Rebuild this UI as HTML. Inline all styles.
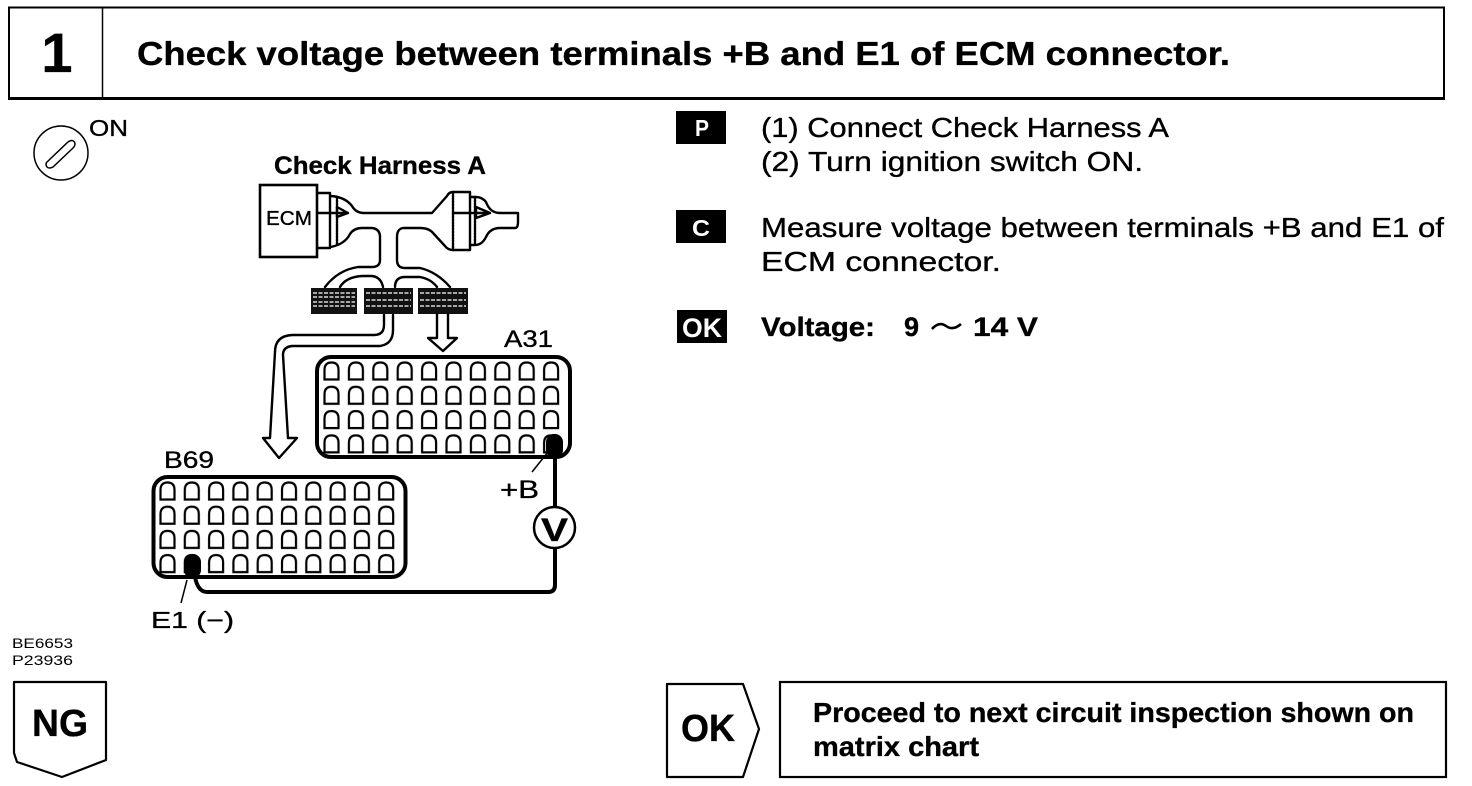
<!DOCTYPE html>
<html>
<head>
<meta charset="utf-8">
<style>
html,body{margin:0;padding:0;background:#fff;}
svg{display:block;}
text{font-family:"Liberation Sans",sans-serif;fill:#000;}
.b{font-weight:bold;stroke:#000;stroke-width:.35px;}
.r{stroke:#000;stroke-width:.35px;}
.t{font-size:28px;stroke:#000;stroke-width:.35px;}
.l{fill:none;stroke:#000;stroke-width:2.4;stroke-linejoin:round;stroke-linecap:round;}
</style>
</head>
<body>
<svg width="1472" height="786" viewBox="0 0 1472 786" xmlns="http://www.w3.org/2000/svg">
<defs>
<pattern id="pa" patternUnits="userSpaceOnUse" x="323" y="361" width="24.4" height="24.3">
<path d="M1.5 18.5V9Q1.5 1.5 8.5 1.5Q15.500 1.500 15.500 9V18.500Z" fill="none" stroke="#000" stroke-width="2.200"/>
</pattern>
<pattern id="pb" patternUnits="userSpaceOnUse" x="159" y="481" width="24.3" height="24.2">
<path d="M1.5 18.5V9Q1.500 1.500 8.500 1.500Q15.500 1.500 15.500 9V18.500Z" fill="none" stroke="#000" stroke-width="2.200"/>
</pattern>
</defs>

<!-- header -->
<rect x="9" y="7.500" width="1435" height="91" fill="none" stroke="#000" stroke-width="2"/>
<line x1="8" y1="98.500" x2="1445" y2="98.500" stroke="#000" stroke-width="3"/>
<line x1="102.500" y1="7" x2="102.500" y2="98" stroke="#000" stroke-width="1.500"/>
<text x="57" y="72" class="b" font-size="56" text-anchor="middle">1</text>
<text x="137" y="65" class="b" font-size="33" textLength="1093" lengthAdjust="spacingAndGlyphs">Check voltage between terminals +B and E1 of ECM connector.</text>

<!-- ignition -->
<circle cx="61" cy="153" r="27" fill="none" stroke="#000" stroke-width="1.500"/>
<path d="M47 162L68 142Q72 139 74.500 142Q76 145 73 148L53 167Q49 169 47 167Q45 164 47 162Z" fill="none" stroke="#000" stroke-width="1.500"/>
<text x="89" y="136" class="r" font-size="23" textLength="39" lengthAdjust="spacingAndGlyphs">ON</text>

<!-- harness -->
<text x="274" y="174" class="b" font-size="25" textLength="212" lengthAdjust="spacingAndGlyphs">Check Harness A</text>
<rect x="260" y="185" width="57" height="72" fill="none" stroke="#000" stroke-width="2.600"/>
<text x="266" y="225" class="r" font-size="20" textLength="46" lengthAdjust="spacingAndGlyphs">ECM</text>
<path class="l" d="M317 193H330V248H317"/>
<path class="l" d="M331 196Q345 197 352 206Q356 213 364 213H432L447 196Q449 192 453 192H470V250H453Q448 250 445 246L433 233Q429 228 420 228H403Q397 229 397 237V260Q397 268 405 268H420Q437 272 450 287"/>
<path class="l" d="M331 247Q345 244 350 234Q354 228 362 228H372Q380 229 380 237V260Q380 267 372 267H358Q338 270 325 287"/>
<path class="l" d="M340 287Q346 277 362 276H372Q381 277 383 287"/>
<path class="l" d="M395 287Q395 277 405 277H420Q431 279 437 287"/>
<path class="l" d="M470 197H476Q482 197 486 202Q490 213 500 213H518V222Q518 228 515 228H500Q490 228 486 237Q482 245 475 245H470"/>
<path class="l" d="M337 197V245M453 192V250M475 197V245" stroke-width="1.500" stroke-dasharray="2 1"/>
<path class="l" d="M317 213H348L337 207V217L348 213" stroke-width="2"/>
<path class="l" d="M453 213H490L476 207V218L490 213" stroke-width="2"/>

<!-- small connectors -->
<rect x="311" y="288" width="46" height="26" fill="#111"/>
<rect x="364" y="288" width="49" height="26" fill="#111"/>
<rect x="418" y="288" width="50" height="26" fill="#111"/>
<path d="M313 293H355M313 297H355M313 302H355M313 306H355M366 293H411M366 300H411M366 306H411M420 293H466M420 300H466M420 306H466" stroke="#fff" stroke-width="1.200" stroke-dasharray="4 1.500"/>

<!-- white arrows -->
<path class="l" d="M437 314V338H428L443 351L457 338H448V314" stroke-width="2"/>
<path class="l" d="M384 315V325Q384 335 374 335H292Q275 336 275 352L270 438H263L279 458L297 438H288L283 355Q283 347 292 346H380Q393 344 393 330V315" stroke-width="2"/>

<!-- A31 -->
<text x="504" y="347" class="r" font-size="24" textLength="49" lengthAdjust="spacingAndGlyphs">A31</text>
<rect x="317" y="357" width="253" height="100" rx="14" fill="#fff" stroke="#000" stroke-width="4"/>
<rect x="321" y="361" width="245" height="97" fill="url(#pa)"/>
<rect x="546" y="434" width="17" height="24" rx="8" fill="#000"/>
<line x1="532" y1="472" x2="548" y2="452" stroke="#000" stroke-width="1.500"/>
<text x="500" y="498" class="r" font-size="25" textLength="39" lengthAdjust="spacingAndGlyphs">+B</text>

<!-- B69 -->
<text x="164" y="468" class="r" font-size="24" textLength="50" lengthAdjust="spacingAndGlyphs">B69</text>
<rect x="153.500" y="477" width="252" height="100" rx="14" fill="#fff" stroke="#000" stroke-width="4"/>
<rect x="158" y="481" width="243" height="95" fill="url(#pb)"/>
<rect x="184" y="554" width="17" height="24" rx="8" fill="#000"/>
<line x1="181" y1="603" x2="187" y2="580" stroke="#000" stroke-width="1.500"/>
<text x="151" y="628" class="r" font-size="23" textLength="83" lengthAdjust="spacingAndGlyphs">E1 (−)</text>

<!-- wire -->
<path d="M555 450V585Q555 592 548 592H207Q196 592 194 570" fill="none" stroke="#000" stroke-width="4"/>
<circle cx="554.500" cy="527.500" r="20.500" fill="#fff" stroke="#000" stroke-width="2.500"/>
<text x="541" y="541" class="b" font-size="32" textLength="27" lengthAdjust="spacingAndGlyphs">V</text>

<!-- codes -->
<text x="12" y="648" font-size="14" textLength="61" lengthAdjust="spacingAndGlyphs">BE6653</text>
<text x="12" y="665" font-size="14" textLength="61" lengthAdjust="spacingAndGlyphs">P23936</text>

<!-- NG -->
<path d="M14 682H106V760L62 777L17 762L14 753Z" fill="none" stroke="#000" stroke-width="2.200" stroke-linejoin="round"/>
<text x="32" y="736" class="b" font-size="38" textLength="56" lengthAdjust="spacingAndGlyphs">NG</text>

<!-- OK -->
<path d="M667 684H743L759 729L743 777H667Z" fill="none" stroke="#000" stroke-width="2.200" stroke-linejoin="round"/>
<text x="681" y="741" class="b" font-size="38" textLength="54" lengthAdjust="spacingAndGlyphs">OK</text>
<rect x="780" y="682" width="666" height="95" fill="none" stroke="#000" stroke-width="2.200"/>
<text x="813" y="722" class="b" font-size="28" textLength="601" lengthAdjust="spacingAndGlyphs">Proceed to next circuit inspection shown on</text>
<text x="813" y="756" class="b" font-size="28" textLength="166" lengthAdjust="spacingAndGlyphs">matrix chart</text>

<!-- right labels -->
<rect x="676" y="111" width="50" height="33" fill="#000"/>
<text x="695" y="136" font-size="23" font-weight="bold" textLength="14" lengthAdjust="spacingAndGlyphs" style="fill:#fff">P</text>
<rect x="676" y="210" width="50" height="33" fill="#000"/>
<text x="692" y="236" font-size="23" font-weight="bold" textLength="18" lengthAdjust="spacingAndGlyphs" style="fill:#fff">C</text>
<rect x="677" y="310" width="50" height="33" fill="#000"/>
<text x="682" y="337" font-size="27" font-weight="bold" textLength="40" lengthAdjust="spacingAndGlyphs" style="fill:#fff">OK</text>

<text x="761" y="137" class="t" textLength="408" lengthAdjust="spacingAndGlyphs">(1) Connect Check Harness A</text>
<text x="761" y="171" class="t" textLength="382" lengthAdjust="spacingAndGlyphs">(2) Turn ignition switch ON.</text>
<text x="761" y="237" class="t" textLength="683" lengthAdjust="spacingAndGlyphs">Measure voltage between terminals +B and E1 of</text>
<text x="761" y="271" class="t" textLength="240" lengthAdjust="spacingAndGlyphs">ECM connector.</text>
<text x="761" y="336" class="b" font-size="27" textLength="114" lengthAdjust="spacingAndGlyphs">Voltage:</text>
<text x="904" y="336" class="b" font-size="27">9</text>
<path d="M932 329Q939 321 946 326Q953 331 961 324" fill="none" stroke="#000" stroke-width="2.600"/>
<text x="973" y="336" class="b" font-size="27" textLength="65" lengthAdjust="spacingAndGlyphs">14 V</text>
</svg>
</body>
</html>
